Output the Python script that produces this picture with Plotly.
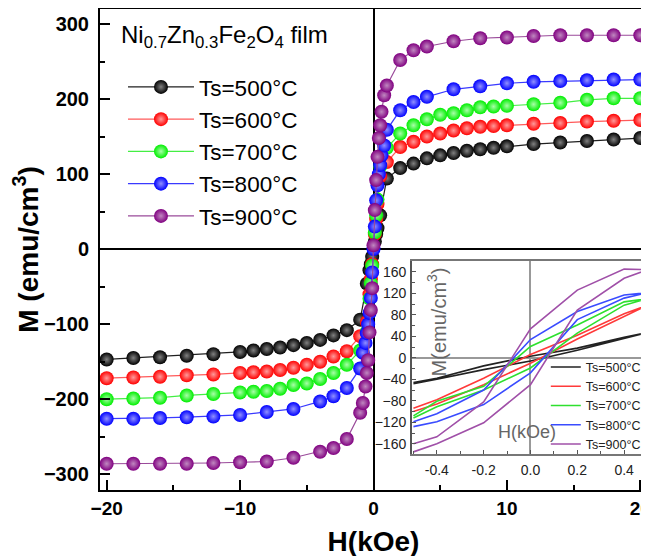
import plotly.graph_objects as go

# ---------------- main M-H data ----------------
series_names = ["Ts=500°C", "Ts=600°C", "Ts=700°C", "Ts=800°C", "Ts=900°C"]
series_colors = ["#000000", "#ff0000", "#00ee00", "#0000ff", "#800080"]
line_colors = ["#202020", "#ff5a5a", "#44ee44", "#3a3aff", "#9a4a9a"]
highlight_colors = ["#808080", "#ff9a9a", "#a8ffa8", "#9090ff", "#c088c0"]
inset_colors = ["#222222", "#ff3a3a", "#2ee02e", "#3a4cff", "#a050a8"]

H_dense = [-20, -18, -16, -14, -12, -10, -9, -8, -7, -6, -5, -4, -3, -2, -1, -0.5, -0.3, -0.2, -0.1,
           0.1, 0.2, 0.3, 0.5, 1, 2, 3, 4, 5, 6, 7, 8, 9, 10, 12, 14, 16, 18, 20]
H_sparse = [-20, -18, -16, -14, -12, -10, -8, -6, -4, -3, -2, -1, -0.8, -0.6, -0.5, -0.4, -0.3, -0.2, -0.1, 0,
            0.1, 0.2, 0.3, 0.4, 0.5, 0.6, 0.8, 1, 2, 3, 4, 6, 8, 10, 12, 14, 16, 18, 20]

M_500 = [-147, -145, -144, -142, -140, -137, -135, -133, -131, -128, -125, -121, -115, -108, -94, -46, -28, -20, -10,
         10, 20, 28, 45, 94, 108, 114, 121, 125, 128, 131, 133, 135, 137, 140, 142, 144, 146, 148]
M_600 = [-172, -171, -170, -168, -167, -165, -164, -163, -161, -158, -154, -150, -143, -136, -116, -97, -60, -40, -20,
         20, 40, 60, 97, 116, 136, 143, 150, 154, 158, 161, 163, 164, 165, 167, 168, 170, 171, 172]
M_700 = [-200, -199, -198, -195, -193, -191, -190, -189, -186, -181, -179, -173, -165, -154, -135, -110, -66, -45, -22,
         22, 45, 66, 110, 135, 154, 165, 173, 179, 181, 185, 189, 190, 191, 193, 195, 199, 201, 201]
M_800 = [-226, -226, -225, -224, -223, -221, -217, -213, -203, -196, -185, -159, -138, -125, -112, -100, -85, -65, -31, 0,
         30, 65, 85, 100, 112, 125, 138, 159, 185, 196, 203, 213, 217, 221, 223, 224, 225, 226, 226]
M_900 = [-286, -286, -286, -286, -285, -284, -283, -278, -270, -265, -253, -218, -205, -183, -165, -148, -111, -81, -52, 5,
         52, 92, 123, 148, 165, 183, 205, 218, 252, 265, 270, 277, 281, 282, 284, 285, 285, 285, 285]

main_H = [H_dense, H_dense, H_dense, H_sparse, H_sparse]
main_M = [M_500, M_600, M_700, M_800, M_900]

# ---------------- inset loop data (kOe, emu/cm^3) ----------------
H_loop = [-0.5, -0.4, -0.2, 0.0, 0.2, 0.4, 0.5, 0.4, 0.2, 0.0, -0.2, -0.4, -0.5]
L_500 = [-48, -40, -22, -6, 14, 36, 47, 38, 18, 3, -15, -38, -46]
L_600 = [-100, -86, -50, -10, 35, 78, 98, 82, 42, 6, -38, -78, -94]
L_700 = [-112, -91, -60, -19, 46, 98, 110, 104, 61, 21, -53, -81, -108]
L_800 = [-128, -119, -87, -28, 71, 111, 121, 117, 86, 34, -60, -104, -119]
L_900 = [-175, -160, -121, -50, 89, 148, 164, 165, 126, 54, -82, -147, -160]
inset_M = [L_500, L_600, L_700, L_800, L_900]

main_ticks_x = [-20, -10, 0, 10, 20]
main_ticks_y = [-300, -200, -100, 0, 100, 200, 300]
inset_ticks_x = [-0.4, -0.2, 0.0, 0.2, 0.4]
inset_ticks_y = [-160, -120, -80, -40, 0, 40, 80, 120, 160]

FONT = "Liberation Sans, Arial, sans-serif"

fig = go.Figure()

for name, hx, my, c, lc, hc in zip(series_names, main_H, main_M, series_colors, line_colors, highlight_colors):
    fig.add_trace(go.Scatter(
        x=hx, y=my, name=name, mode="lines+markers",
        line=dict(color=lc, width=1.2),
        marker=dict(size=14, color=c, line=dict(width=0),
                    gradient=dict(type="radial", color=hc)),
        xaxis="x", yaxis="y", legend="legend",
    ))

for name, my, c in zip(series_names, inset_M, inset_colors):
    fig.add_trace(go.Scatter(
        x=H_loop, y=my, name=name, mode="lines",
        line=dict(color=c, width=1.6),
        xaxis="x2", yaxis="y2", legend="legend2",
    ))

fig.update_layout(
    width=649, height=556,
    margin=dict(l=92, r=10, t=1, b=74, autoexpand=False),
    paper_bgcolor="white", plot_bgcolor="white",
    font=dict(family=FONT, color="black"),
    showlegend=True,
    xaxis=dict(
        domain=[0, 1], range=[-20.5, 20.5], tickvals=main_ticks_x, automargin=False,
        ticks="inside", ticklen=10, tickwidth=2, tickcolor="black",
        minor=dict(dtick=5, ticks="inside", ticklen=5, tickwidth=2, tickcolor="black"),
        showline=True, linewidth=2, linecolor="black", mirror=True,
        zeroline=True, zerolinecolor="black", zerolinewidth=1.5,
        showgrid=False,
        tickfont=dict(size=19, weight="bold", family=FONT),
        ticklabelstandoff=0,
        title=dict(text="H(kOe)", font=dict(size=28, weight="bold", family=FONT), standoff=14),
    ),
    yaxis=dict(
        domain=[0, 1], range=[-321, 320], tickvals=main_ticks_y, automargin=False,
        ticks="inside", ticklen=10, tickwidth=2, tickcolor="black",
        minor=dict(dtick=50, ticks="inside", ticklen=5, tickwidth=2, tickcolor="black"),
        showline=True, linewidth=2, linecolor="black", mirror=True,
        zeroline=True, zerolinecolor="black", zerolinewidth=1.5,
        showgrid=False,
        tickfont=dict(size=20, weight="bold", family=FONT),
        ticklabelstandoff=5,
        title=dict(text="M (emu/cm<sup>3</sup>)", font=dict(size=28, weight="bold", family=FONT), standoff=3),
    ),
    xaxis2=dict(
        domain=[0.570, 0.998], anchor="y2", range=[-0.507, 0.493], tickvals=inset_ticks_x,
        ticktext=["-0.4", "-0.2", "0.0", "0.2", "0.4"], automargin=False,
        ticks="inside", ticklen=4, tickwidth=1, tickcolor="#555555",
        minor=dict(dtick=0.1, ticks="inside", ticklen=3, tickwidth=1, tickcolor="#555555"),
        showline=True, linewidth=1.5, linecolor="#777777", mirror=True,
        zeroline=True, zerolinecolor="#999999", zerolinewidth=1.5,
        showgrid=False,
        tickfont=dict(size=14, family=FONT, color="#222222"),
        ticklabelstandoff=2,
    ),
    yaxis2=dict(
        domain=[0.0748, 0.476], anchor="x2", range=[-179, 180], tickvals=inset_ticks_y, automargin=False,
        ticks="inside", ticklen=4, tickwidth=1, tickcolor="#555555",
        minor=dict(dtick=20, ticks="inside", ticklen=3, tickwidth=1, tickcolor="#555555"),
        showline=True, linewidth=1.5, linecolor="#555555", mirror=True,
        zeroline=True, zerolinecolor="#999999", zerolinewidth=1.5,
        showgrid=False,
        tickfont=dict(size=14, family=FONT, color="#222222"),
        ticklabelstandoff=1,
    ),
    legend=dict(
        x=0.042, y=0.882, xanchor="left", yanchor="top",
        bgcolor="rgba(0,0,0,0)", borderwidth=0,
        font=dict(size=22.5, family=FONT, color="black"),
        itemwidth=66,
    ),
    legend2=dict(
        x=0.815, y=0.286, xanchor="left", yanchor="top",
        bgcolor="rgba(0,0,0,0)", borderwidth=0,
        font=dict(size=12.5, family=FONT, color="#222222"),
        itemwidth=30,
    ),
    annotations=[
        dict(text="Ni<sub>0.7</sub>Zn<sub>0.3</sub>Fe<sub>2</sub>O<sub>4</sub> film",
             xref="paper", yref="paper", x=0.035, y=0.943, xanchor="left", yanchor="middle",
             showarrow=False, font=dict(size=24, family=FONT, color="black")),
        dict(text="M(emu/cm<sup>3</sup>)", xref="x2 domain", yref="y2 domain",
             x=0.105, y=0.684, xanchor="center", yanchor="middle", textangle=-90, showarrow=False,
             font=dict(size=20, family=FONT, color="#666666")),
        dict(text="H(kOe)", xref="x2 domain", yref="y2 domain",
             x=0.49, y=0.115, xanchor="center", yanchor="middle", showarrow=False,
             font=dict(size=18, family=FONT, color="#666666")),
    ],
)

fig.write_html("out.html")
